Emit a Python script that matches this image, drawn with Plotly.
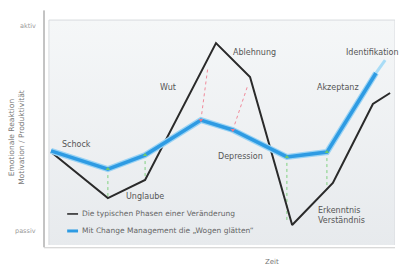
import plotly.graph_objects as go

# Typical phases of change (black) — time vs. emotional reaction (0..100)
phase_x = [2.0, 18.2, 28.8, 49.0, 58.7, 70.7, 82.3, 93.7, 98.6]
phase_y = [40.4, 20.4, 28.3, 87.8, 73.0, 8.7, 27.0, 61.3, 66.1]

# With change management (blue)
cm_x = [2.0, 18.2, 28.8, 44.7, 53.8, 69.2, 80.6, 94.6]
cm_y = [40.9, 33.0, 39.1, 54.3, 50.0, 38.3, 40.4, 74.8]
cm_tip_x = [94.6, 97.2]
cm_tip_y = [74.8, 80.4]

# Dotted connectors (blue point -> black curve)
green_x0 = [18.2, 28.8, 69.2, 80.6]
green_y0 = [33.0, 39.1, 38.3, 40.4]
green_y1 = [20.4, 28.3, 10.5, 24.0]
red_x0 = [44.7, 53.8]
red_y0 = [54.3, 50.0]
red_x1 = [46.7, 58.1]
red_y1 = [77.4, 69.6]

phase_labels = ["Schock", "Unglaube", "Wut", "Ablehnung", "Depression",
                "Erkenntnis<br>Verständnis", "Akzeptanz", "Identifikation"]
label_x = [9.4, 28.8, 35.3, 60.1, 56.1, 77.5, 83.8, 99.9]
label_y = [43.9, 21.3, 68.3, 83.9, 38.3, 13.0, 68.3, 83.9]
label_anchor = ["center", "center", "center", "center", "center", "left", "center", "right"]

legend_names = ["Die typischen Phasen einer Veränderung",
                "Mit Change Management die „Wogen glätten“"]

FONT = "DejaVu Sans"
TXT = "#555555"

fig = go.Figure()

# panel background with vertical gradient
fig.add_trace(go.Scatter(x=[1.4, 100, 100, 1.4, 1.4], y=[-0.6, -0.6, 97.8, 97.8, -0.6],
                         mode="lines", fill="toself",
                         line=dict(color="#d8dbde", width=1),
                         fillgradient=dict(type="vertical",
                                           colorscale=[[0, "#e7eaed"], [1, "#f5f7f8"]]),
                         hoverinfo="skip", showlegend=False))

# connectors
for x0, y0, y1 in zip(green_x0, green_y0, green_y1):
    fig.add_trace(go.Scatter(x=[x0, x0], y=[y0, y1], mode="lines",
                             line=dict(color="#7fd07f", width=1, dash="dot"),
                             hoverinfo="skip", showlegend=False))
for x0, y0, x1, y1 in zip(red_x0, red_y0, red_x1, red_y1):
    fig.add_trace(go.Scatter(x=[x0, x1], y=[y0, y1], mode="lines",
                             line=dict(color="#f08a9a", width=1, dash="dot"),
                             hoverinfo="skip", showlegend=False))

fig.add_trace(go.Scatter(x=phase_x, y=phase_y, mode="lines",
                         line=dict(color="#2a2a2a", width=2),
                         name=legend_names[0], showlegend=False))
fig.add_trace(go.Scatter(x=cm_x, y=cm_y, mode="lines",
                         line=dict(color="#9ad3f4", width=6),
                         hoverinfo="skip", showlegend=False))
fig.add_trace(go.Scatter(x=cm_x, y=cm_y, mode="lines",
                         line=dict(color="#2e9be3", width=3.5),
                         name=legend_names[1], showlegend=False))
fig.add_trace(go.Scatter(x=cm_tip_x, y=cm_tip_y, mode="lines",
                         line=dict(color="#a9dcf6", width=3),
                         hoverinfo="skip", showlegend=False))

# small markers at connector ends
fig.add_trace(go.Scatter(x=green_x0, y=green_y0, mode="markers",
                         marker=dict(color="#6cc96c", size=4, symbol="triangle-up"),
                         hoverinfo="skip", showlegend=False))
fig.add_trace(go.Scatter(x=red_x0, y=red_y0, mode="markers",
                         marker=dict(color="#e8788a", size=4, symbol="triangle-down"),
                         hoverinfo="skip", showlegend=False))

# top dot of the y axis
fig.add_trace(go.Scatter(x=[0], y=[102], mode="markers",
                         marker=dict(color="#333333", size=4),
                         cliponaxis=False, hoverinfo="skip", showlegend=False))

for t, x, y, a in zip(phase_labels, label_x, label_y, label_anchor):
    fig.add_annotation(x=x, y=y, text=t, showarrow=False, xanchor=a,
                       xshift=(6 if a == "right" else 0),
                       align="left", font=dict(family=FONT, size=8, color=TXT))

# y axis line
fig.add_shape(type="line", xref="paper", yref="paper", x0=0, x1=0, y0=-0.01, y1=1.02,
              line=dict(color="#888888", width=1))
# bottom border line
fig.add_shape(type="line", xref="paper", yref="paper", x0=0, x1=1, y0=-0.012, y1=-0.012,
              line=dict(color="#cccccc", width=1))

# manual legend
leg_y = [13.5, 6.1]
leg_col = ["#222222", "#2e9be3"]
leg_w = [1.5, 3]
for yy, c, w, name in zip(leg_y, leg_col, leg_w, legend_names):
    fig.add_shape(type="line", xref="x", yref="y", x0=6.6, x1=9.7, y0=yy, y1=yy,
                  line=dict(color=c, width=w))
    fig.add_annotation(x=10.3, y=yy, text=name, showarrow=False, xanchor="left",
                       font=dict(family=FONT, size=7.5, color="#666666"))

# axis end labels
fig.add_annotation(xref="paper", x=-0.018, y=95.2, text="aktiv", showarrow=False,
                   xanchor="right", font=dict(family=FONT, size=6.5, color="#999999"))
fig.add_annotation(xref="paper", x=-0.018, y=6.1, text="passiv", showarrow=False,
                   xanchor="right", font=dict(family=FONT, size=6.5, color="#999999"))
fig.add_annotation(xref="paper", yref="paper", x=-0.077, y=0.47, xanchor="center",
                   text="Emotionale Reaktion<br>Motivation / Produktivität",
                   showarrow=False, textangle=-90,
                   font=dict(family=FONT, size=7.5, color="#777777"))
fig.add_annotation(x=65.0, yref="paper", y=-0.075, text="Zeit", showarrow=False,
                   yanchor="middle", font=dict(family=FONT, size=7, color="#777777"))

fig.update_layout(
    width=400, height=266,
    margin=dict(l=44, r=5, t=15, b=21),
    paper_bgcolor="white", plot_bgcolor="white",
    xaxis=dict(range=[0, 100], visible=False, fixedrange=True),
    yaxis=dict(range=[0, 100], visible=False, fixedrange=True),
    showlegend=False,
)

fig.write_html("out.html", config={"displayModeBar": False},
               post_script="document.body.style.margin='0px';document.body.style.overflow='hidden';")
